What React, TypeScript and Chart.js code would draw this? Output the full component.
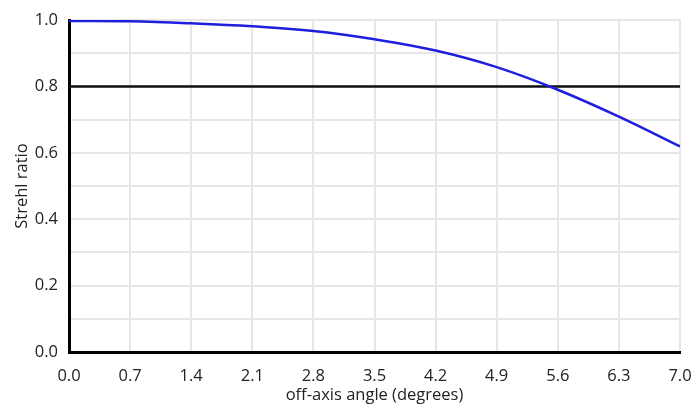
import React, { useEffect, useRef } from "react";
import { Chart, registerables } from "chart.js";

Chart.register(...registerables);

// Off-axis angle samples (degrees) and the Strehl ratio at each
const angles = [0.0, 0.7, 1.4, 2.1, 2.8, 3.5, 4.2, 4.9, 5.6, 6.3, 7.0];
const strehl = [0.997, 0.996, 0.99, 0.981, 0.967, 0.942, 0.908, 0.858, 0.79, 0.709, 0.619];

// Diffraction-limited threshold
const thresholdX = [0.0, 7.0];
const thresholdY = [0.8, 0.8];

const xTicks = [0.0, 0.7, 1.4, 2.1, 2.8, 3.5, 4.2, 4.9, 5.6, 6.3, 7.0];
const yTicks = [0.0, 0.1, 0.2, 0.3, 0.4, 0.5, 0.6, 0.7, 0.8, 0.9, 1.0];

const FONT = "'Open Sans', 'DejaVu Sans', sans-serif";
const SIZE = 16.5;

export default function App() {
  const ref = useRef<HTMLCanvasElement>(null);

  useEffect(() => {
    if (!ref.current) return;
    const chart = new Chart(ref.current, {
      type: "line",
      data: {
        datasets: [
          {
            data: angles.map((a, i) => ({ x: a, y: strehl[i] })),
            borderColor: "#1e1ede",
            borderWidth: 2.5,
            pointRadius: 0,
            tension: 0.4,
            fill: false,
          },
          {
            data: thresholdX.map((a, i) => ({ x: a, y: thresholdY[i] })),
            borderColor: "#111111",
            borderWidth: 2.5,
            pointRadius: 0,
            fill: false,
          },
        ],
      },
      options: {
        animation: false,
        responsive: false,
        maintainAspectRatio: false,
        layout: { padding: { top: 20, right: 17, left: 12, bottom: 3 } },
        plugins: { legend: { display: false }, tooltip: { enabled: false } },
        scales: {
          x: {
            type: "linear",
            min: 0,
            max: 7,
            afterBuildTicks: (scale: any) => {
              scale.ticks = xTicks.map((v) => ({ value: v }));
            },
            afterFit: (scale: any) => {
              scale.height = 53;
              scale.paddingLeft = 0;
              scale.paddingRight = 0;
            },
            grid: { color: "#e6e6e6", lineWidth: 2, drawTicks: false },
            border: { display: true, color: "#000000", width: 3 },
            ticks: {
              autoSkip: false,
              maxRotation: 0,
              padding: 14,
              color: "#222222",
              font: { family: FONT, size: SIZE },
              callback: (v: any) => Number(v).toFixed(1),
            },
            title: {
              display: true,
              text: "off-axis angle (degrees)",
              color: "#222222",
              font: { family: FONT, size: SIZE },
              padding: { top: 0, bottom: 0 },
            },
          },
          y: {
            type: "linear",
            min: 0,
            max: 1,
            afterBuildTicks: (scale: any) => {
              scale.ticks = yTicks.map((v) => ({ value: v }));
            },
            afterFit: (scale: any) => {
              scale.width = 57;
              scale.paddingTop = 0;
              scale.paddingBottom = 0;
            },
            grid: { color: "#e6e6e6", lineWidth: 2, drawTicks: false },
            border: { display: true, color: "#000000", width: 3 },
            ticks: {
              autoSkip: false,
              padding: 11,
              color: "#222222",
              font: { family: FONT, size: SIZE },
              callback: (v: any, i: number) => (i % 2 === 0 ? Number(v).toFixed(1) : ""),
            },
            title: {
              display: true,
              text: "Strehl ratio",
              color: "#222222",
              font: { family: FONT, size: SIZE },
              padding: { top: 0, bottom: 0 },
            },
          },
        },
      },
    });
    return () => chart.destroy();
  }, []);

  return (
    <div style={{ position: "absolute", left: 0, top: 0, width: 697, height: 408, background: "#ffffff" }}>
      <canvas ref={ref} width={697} height={408} />
    </div>
  );
}
